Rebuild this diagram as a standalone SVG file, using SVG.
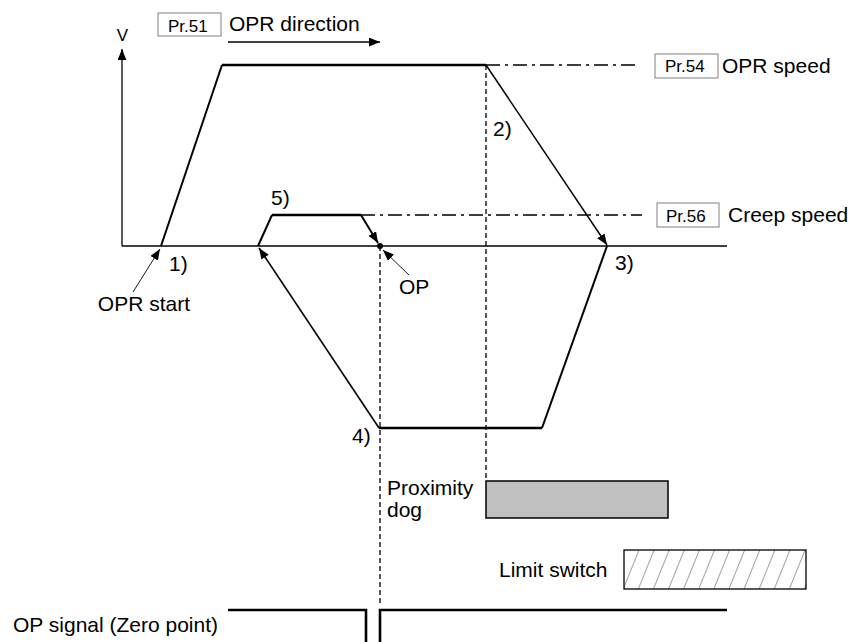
<svg xmlns="http://www.w3.org/2000/svg" width="857" height="642" viewBox="0 0 857 642">
<style>
text{font-family:"Liberation Sans",Arial,sans-serif;font-size:21px;fill:#000}
.pr{font-size:17px}
.box{fill:#fff;stroke:#808080;stroke-width:1}
.ln{fill:none;stroke:#000;stroke-width:1.3}
.pf{fill:none;stroke:#000;stroke-width:2;stroke-linejoin:miter}
.thick{fill:none;stroke:#000;stroke-width:2.6}
.dash{fill:none;stroke:#000;stroke-width:1.3;stroke-dasharray:5 3}
.dd{fill:none;stroke:#000;stroke-width:1.3;stroke-dasharray:14 5 3 5}
.lead{fill:none;stroke:#000;stroke-width:0.9}
.sig{fill:none;stroke:#000;stroke-width:2.6}
</style>
<defs>
<marker id="ah" viewBox="0 0 10 8" refX="10" refY="4" markerWidth="11" markerHeight="9" markerUnits="userSpaceOnUse" orient="auto">
<path d="M0,0 L10,4 L0,8 z" fill="#000"/>
</marker>
<pattern id="hatch" patternUnits="userSpaceOnUse" width="14" height="10" patternTransform="rotate(22)">
<line x1="0" y1="-1" x2="0" y2="11" stroke="#444" stroke-width="1"/>
</pattern>
</defs>
<rect width="857" height="642" fill="#fff"/>

<g id="axes">
<line class="ln" x1="122" y1="246" x2="122" y2="49" marker-end="url(#ah)"/>
<line class="ln" x1="122" y1="246" x2="727" y2="246"/>
<text x="122.5" y="41" text-anchor="middle" style="font-size:17px">V</text>
</g>

<g id="pr51">
<rect class="box" x="158" y="13" width="63" height="23"/>
<text class="pr" x="168" y="32">Pr.51</text>
<text x="229" y="31">OPR direction</text>
<line class="ln" x1="228" y1="42" x2="380" y2="42" marker-end="url(#ah)"/>
</g>

<g id="pr54">
<rect class="box" x="655" y="54" width="63" height="24"/>
<text class="pr" x="665" y="72">Pr.54</text>
<text x="722" y="73">OPR speed</text>
</g>

<g id="pr56">
<rect class="box" x="657" y="203" width="62" height="24"/>
<text class="pr" x="666" y="222">Pr.56</text>
<text x="728" y="222">Creep speed</text>
</g>

<g id="connectors">
<line class="dd" x1="486" y1="65" x2="640" y2="65"/>
<line class="dd" x1="361" y1="215" x2="642" y2="215"/>
<line class="dash" x1="486" y1="65" x2="486" y2="481"/>
<line class="dash" x1="380" y1="246" x2="380" y2="605"/>
<path class="pf" d="M161,246 L222,65"/>
<path class="thick" d="M222,65 L486,65"/>
<path class="pf" style="stroke-width:1.5" d="M486,65 L607,245" marker-end="url(#ah)"/>
<path class="pf" d="M607,246 L542,428"/>
<path class="thick" d="M542,428 L379,428"/>
<path class="pf" style="stroke-width:1.6" d="M379,428 L259,248" marker-end="url(#ah)"/>
<path class="pf" d="M258,246 L272,215"/>
<path class="thick" d="M272,215 L361,215"/>
<path class="pf" d="M361,215 L378,243" marker-end="url(#ah)"/>
<line class="lead" x1="133" y1="292" x2="160" y2="249" marker-end="url(#ah)"/>
<line class="lead" x1="409" y1="275" x2="383" y2="250" marker-end="url(#ah)"/>
</g>

<g id="op">
<circle cx="380" cy="246" r="3" fill="#000"/>
<text x="399" y="294">OP</text>
</g>

<g id="labels">
<text x="169" y="271">1)</text>
<text x="493" y="136">2)</text>
<text x="615" y="270">3)</text>
<text x="352" y="443">4)</text>
<text x="271" y="205">5)</text>
<text x="190" y="311" text-anchor="end">OPR start</text>
</g>

<g id="proximity-dog">
<rect x="486" y="481" width="182" height="37" fill="#c0c0c0" stroke="#000" stroke-width="1.5"/>
<text x="387" y="495">Proximity</text>
<text x="387" y="517">dog</text>
</g>

<g id="limit-switch">
<rect x="624" y="550" width="182" height="39" fill="url(#hatch)" stroke="#000" stroke-width="1.3"/>
<text x="499" y="577">Limit switch</text>
</g>

<g id="op-signal">
<polyline class="sig" points="228,610 366,610 366,642"/>
<polyline class="sig" points="380,642 380,610 727,610"/>
<text x="13" y="632">OP signal (Zero point)</text>
</g>
</svg>
